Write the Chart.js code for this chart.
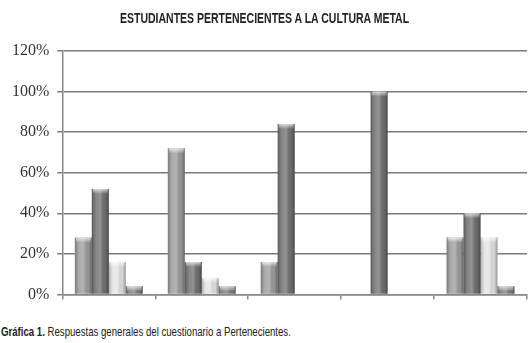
<!DOCTYPE html>
<html>
<head>
<meta charset="utf-8">
<script src="https://cdn.jsdelivr.net/npm/chart.js@4.4.1/dist/chart.umd.min.js"></script>
<style>
  html, body { margin: 0; padding: 0; background: #fff; }
  #wrap { position: relative; width: 529px; height: 343px; overflow: hidden; }
  #c { position: absolute; left: 0; top: 0; }
  #title { position: absolute; left: 0; width: 529px; top: 9px; text-align: center; font-family: "Liberation Sans", Arial, sans-serif; font-size: 15px; font-weight: bold; color: #222; white-space: nowrap; }
  #title span { display: inline-block; transform: scaleX(0.70); transform-origin: center top; }
  #caption { position: absolute; left: 1px; top: 324px; font-family: "Liberation Sans", Arial, sans-serif; font-size: 13px; color: #222; white-space: nowrap; transform: scaleX(0.74); transform-origin: left top; }
  #caption b { font-weight: bold; }
</style>
</head>
<body>
<div id="wrap">
  <canvas id="c" width="529" height="312"></canvas>
  <div id="title"><span id="titleText"></span></div>
  <div id="caption"><b>Gráfica 1.</b> Respuestas generales del cuestionario a Pertenecientes.</div>
</div>
<script>
const categories = ['1', '2', '3', '4', '5'];
const serie1 = [28, 72, 16, 0, 28];
const serie2 = [52, 16, 84, 100, 40];
const serie3 = [16, 8, 0, 0, 28];
const serie4 = [4, 4, 0, 0, 4];
const yTicks = [0, 20, 40, 60, 80, 100, 120];
const titleText = 'ESTUDIANTES PERTENECIENTES A LA CULTURA METAL';

document.getElementById('titleText').textContent = titleText;

const shadePlugin = {
  id: 'shade',
  afterDatasetsDraw(chart) {
    const ctx = chart.ctx;
    chart.data.datasets.forEach((ds, i) => {
      const meta = chart.getDatasetMeta(i);
      meta.data.forEach(bar => {
        const { x, y, base, width } = bar.getProps(['x', 'y', 'base', 'width'], true);
        const h = base - y;
        if (h <= 0.5) return;
        const l = x - width / 2;
        const g = ctx.createLinearGradient(l, 0, l + width, 0);
        g.addColorStop(0, 'rgba(0,0,0,0.25)');
        g.addColorStop(0.25, 'rgba(255,255,255,0.15)');
        g.addColorStop(0.5, 'rgba(255,255,255,0.25)');
        g.addColorStop(0.8, 'rgba(0,0,0,0.05)');
        g.addColorStop(1, 'rgba(0,0,0,0.35)');
        ctx.save();
        ctx.fillStyle = g;
        ctx.fillRect(l, y, width, h);
        const cap = Math.min(5, h);
        const g2 = ctx.createLinearGradient(0, y, 0, y + cap);
        g2.addColorStop(0, 'rgba(255,255,255,0.7)');
        g2.addColorStop(1, 'rgba(255,255,255,0)');
        ctx.fillStyle = g2;
        ctx.fillRect(l + 1, y, width - 2, cap);
        ctx.restore();
      });
    });
  }
};

new Chart(document.getElementById('c'), {
  type: 'bar',
  data: {
    labels: categories,
    datasets: [
      { label: 'Serie 1', data: serie1, backgroundColor: '#9c9c9c', borderWidth: 0 },
      { label: 'Serie 2', data: serie2, backgroundColor: '#707070', borderWidth: 0 },
      { label: 'Serie 3', data: serie3, backgroundColor: '#e4e4e4', borderWidth: 0 },
      { label: 'Serie 4', data: serie4, backgroundColor: '#7c7c7c', borderWidth: 0 }
    ]
  },
  plugins: [shadePlugin],
  options: {
    responsive: false,
    animation: false,
    devicePixelRatio: 1,
    layout: { padding: { left: 4, right: 2, top: 51, bottom: 0 } },
    datasets: { bar: { categoryPercentage: 0.73, barPercentage: 1.0 } },
    plugins: {
      legend: { display: false },
      tooltip: { enabled: false },
      title: { display: false }
    },
    scales: {
      x: {
        offset: true,
        border: { display: true, color: '#888', width: 1.5 },
        grid: { display: true, offset: true, drawOnChartArea: false, drawTicks: true, tickLength: 5, color: '#888', lineWidth: 1.5 },
        ticks: { display: false }
      },
      y: {
        min: 0,
        max: 120,
        afterBuildTicks(axis) { axis.ticks = yTicks.map(v => ({ value: v })); },
        border: { display: true, color: '#888', width: 1.5 },
        grid: { color: '#7a7a7a', lineWidth: 1.5, drawTicks: true, tickLength: 5 },
        ticks: {
          color: '#333',
          padding: 8,
          font: { family: '"Liberation Serif", "Times New Roman", serif', size: 16 },
          callback: v => v + '%'
        }
      }
    }
  }
});
</script>
</body>
</html>
